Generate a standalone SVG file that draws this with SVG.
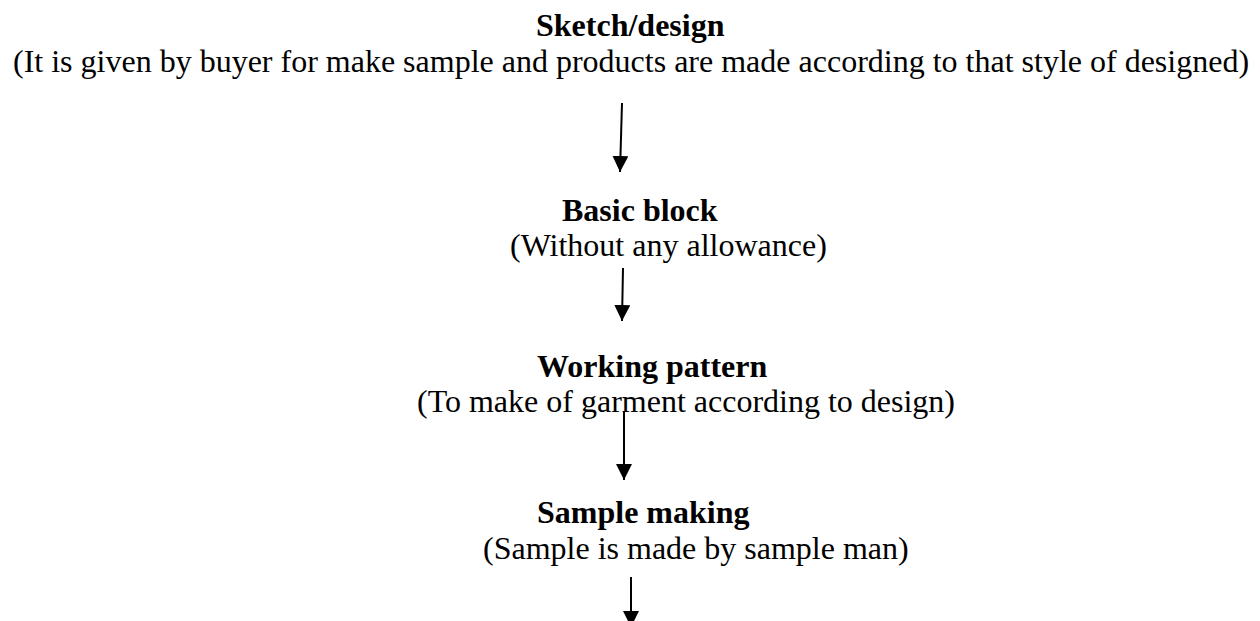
<svg xmlns="http://www.w3.org/2000/svg" width="1260" height="621" viewBox="0 0 1260 621">
  <style>
    .title { font-family: "Liberation Serif", "Times New Roman", serif; font-weight: bold; font-size: 32px; fill: #000; }
    .note { font-family: "Liberation Serif", "Times New Roman", serif; font-size: 32px; fill: #000; }
    .link { stroke: #000; stroke-width: 2; fill: none; marker-end: url(#head); }
  </style>
  <defs>
    <marker id="head" markerUnits="userSpaceOnUse" markerWidth="16" markerHeight="16" viewBox="0 0 16 16" refX="16" refY="8" orient="auto">
      <path d="M0,0 L16,8 L0,16 Z" fill="#000"/>
    </marker>
  </defs>
  <rect width="1260" height="621" fill="#fff"/>

  <g id="sketch-design">
    <text class="title" x="536" y="36">Sketch/design</text>
    <text class="note" x="13" y="72">(It is given by buyer for make sample and products are made according to that style of designed)</text>
  </g>

  <g id="basic-block">
    <text class="title" x="562" y="221">Basic block</text>
    <text class="note" x="510" y="256">(Without any allowance)</text>
  </g>

  <g id="working-pattern">
    <text class="title" x="537" y="377">Working pattern</text>
    <text class="note" x="417" y="412">(To make of garment according to design)</text>
  </g>

  <g id="sample-making">
    <text class="title" x="537" y="523">Sample making</text>
    <text class="note" x="483" y="559">(Sample is made by sample man)</text>
  </g>

  <g id="connectors">
    <path class="link" d="M622,103 L620,172"/>
    <path class="link" d="M623,268 L622,321"/>
    <path class="link" d="M624,411 L624,480"/>
    <path class="link" d="M631,577 L631,627"/>
  </g>
</svg>
